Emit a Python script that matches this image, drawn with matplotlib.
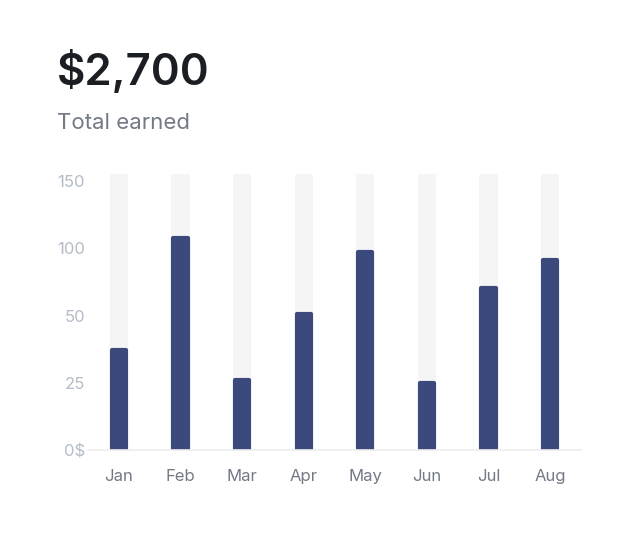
import numpy as np
import matplotlib
matplotlib.use("Agg")
import matplotlib.pyplot as plt

plt.rcParams['font.family'] = ['Inter', 'DejaVu Sans']

# data
months = ["Jan", "Feb", "Mar", "Apr", "May", "Jun", "Jul", "Aug"]
earned = [37, 108, 26, 51.5, 97.5, 25, 70.5, 91]
track_top = 154
tick_values = [0, 25, 50, 100, 150]
tick_labels = ["0$", "25", "50", "100", "150"]
total = "$2,700"
subtitle = "Total earned"

# the axis spaces its ticks evenly, so map values piecewise
scale_vals = [0, 25, 50, 100, 150, 200]
scale_idx = [0, 1, 2, 3, 4, 5]

def fwd(v):
    return np.interp(v, scale_vals, scale_idx)

def inv(i):
    return np.interp(i, scale_idx, scale_vals)

fig = plt.figure(figsize=(6.4, 5.4), dpi=100)
ax = fig.add_axes([88 / 640, 90 / 540, 493 / 640, 277 / 540])
ax.set_yscale("function", functions=(fwd, inv))

x = np.arange(len(months))
# background tracks
ax.bar(x, [track_top] * len(months), width=0.23, color="#f5f5f5",
       edgecolor="#f5f5f5", linewidth=3, joinstyle="round", zorder=1)
# value bars
ax.bar(x, earned, width=0.23, color="#3c497c", edgecolor="#3c497c",
       linewidth=3, joinstyle="round", zorder=2)

ax.set_xlim(-0.5, 7.5)
ax.set_ylim(0, 156)
ax.set_yticks(tick_values)
ax.set_yticklabels(tick_labels)
ax.set_xticks(x)
ax.set_xticklabels(months)

for s in ["top", "right", "left"]:
    ax.spines[s].set_visible(False)
ax.spines["bottom"].set_color("#eeeeee")
ax.spines["bottom"].set_linewidth(1.2)
ax.tick_params(axis="y", length=0, pad=2, labelsize=12, labelcolor="#b5bdc8")
ax.tick_params(axis="x", length=0, pad=14, labelsize=12, labelcolor="#737a86")

fig.text(57 / 640, 1 - 85 / 540, total, fontsize=31.5, fontweight="semibold",
         color="#1b1e22", va="baseline")
fig.text(57 / 640, 1 - 129 / 540, subtitle, fontsize=16,
         color="#737a86", va="baseline")

fig.savefig("out.png", dpi=100)
